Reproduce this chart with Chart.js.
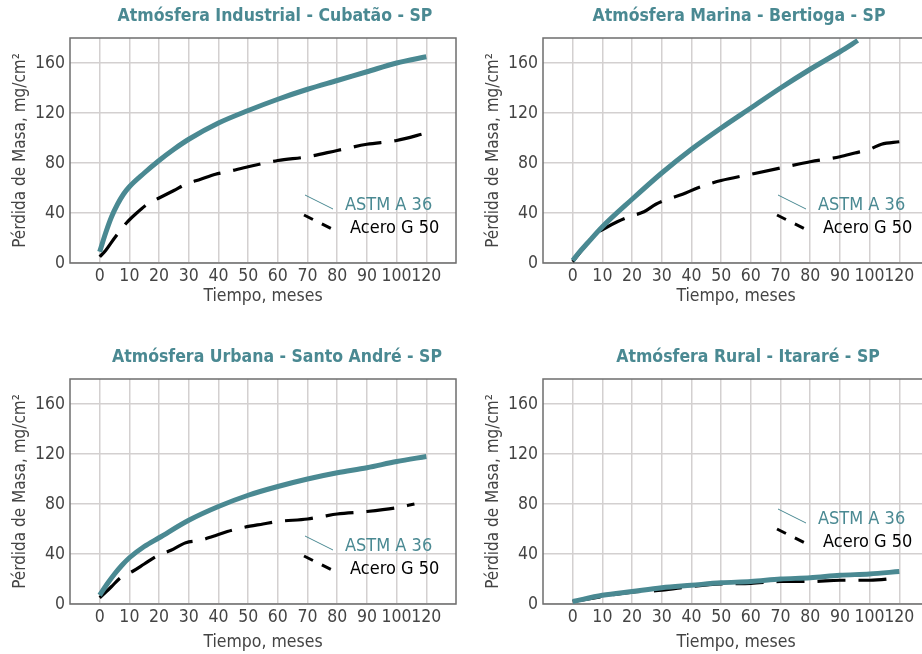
<!DOCTYPE html>
<html>
<head>
<meta charset="utf-8">
<script src="https://cdn.jsdelivr.net/npm/chart.js@4/dist/chart.umd.min.js"></script>
<style>
  html, body { margin: 0; padding: 0; background: #fff; width: 922px; height: 654px; overflow: hidden; }
  canvas { position: absolute; }
</style>
</head>
<body>
<canvas id="industrial" width="461" height="320" style="left:0px;top:0px;width:461px;height:320px"></canvas>
<canvas id="marina" width="461" height="320" style="left:473px;top:0px;width:461px;height:320px"></canvas>
<canvas id="urbana" width="461" height="320" style="left:0px;top:341px;width:461px;height:320px"></canvas>
<canvas id="rural" width="461" height="320" style="left:473px;top:341px;width:461px;height:320px"></canvas>
<script>
// Mass loss (mg/cm²) of ASTM A 36 and Acero G 50 over exposure time (months)
const panelTitles = [
  'Atmósfera Industrial - Cubatão - SP',
  'Atmósfera Marina - Bertioga - SP',
  'Atmósfera Urbana - Santo André - SP',
  'Atmósfera Rural - Itararé - SP'
];
const seriesNames = ['ASTM A 36', 'Acero G 50'];
const xTickLabels = ['0', '10', '20', '30', '40', '50', '60', '70', '80', '90', '100', '120'];
const xTickMonths = [0, 10, 20, 30, 40, 50, 60, 70, 80, 90, 100, 120];
const yTicks = [0, 40, 80, 120, 160];
const xAxisTitle = 'Tiempo, meses';
const yAxisTitle = 'Pérdida de Masa, mg/cm²';

// Industrial – Cubatão
const industrialA36Months = [0, 2, 4, 6, 8, 10, 15, 20, 25, 30, 40, 50, 60, 70, 80, 90, 100, 120];
const industrialA36Loss   = [9, 24, 37, 47, 55, 61, 72, 82, 91, 99, 112, 122, 131, 139, 146, 153, 160, 165];
const industrialG50Months = [0, 2, 5, 9, 12, 16, 20, 25, 29, 34, 39, 43, 50, 60, 70, 80, 90, 100, 120];
const industrialG50Loss   = [5, 10, 20, 32, 39, 47, 52, 58, 63, 67, 71, 73, 77, 82, 85, 90, 95, 98, 104];

// Marine – Bertioga
const marinaA36Months = [0, 2, 5, 10, 20, 30, 40, 50, 60, 70, 80, 90, 96];
const marinaA36Loss   = [2, 8, 16, 29, 51, 72, 91, 108, 124, 140, 155, 169, 178];
const marinaG50Months = [0, 5, 7, 11, 15, 19, 24, 28, 32, 37, 42, 47, 50, 60, 70, 80, 90, 95, 100, 108, 120];
const marinaG50Loss   = [1, 16, 22, 28, 33, 37, 41, 47, 51, 55, 60, 64, 66, 71, 76, 81, 85, 88, 91, 95, 97];

// Urban – Santo André
const urbanaA36Months = [0, 2.5, 5, 7.5, 10, 15, 20, 30, 40, 50, 60, 70, 80, 90, 100, 120];
const urbanaA36Loss   = [7, 16, 24, 31, 37, 46, 53, 67, 78, 87, 94, 100, 105, 109, 114, 118];
const urbanaG50Months = [0, 4, 7, 11, 15, 19, 24, 29, 34, 38, 43, 48, 55, 60, 70, 75, 80, 90, 100, 112];
const urbanaG50Loss   = [5, 14, 21, 26, 32, 38, 43, 49, 51, 54, 58, 61, 64, 66, 68, 70, 72, 74, 77, 80];

// Rural – Itararé
const ruralA36Months = [0, 10, 20, 30, 40, 50, 60, 70, 80, 90, 100, 120];
const ruralA36Loss   = [2, 7, 10, 13, 15, 17, 18, 20, 21, 23, 24, 26];
const ruralG50Months = [0, 10, 20, 30, 40, 50, 60, 70, 80, 90, 100, 120];
const ruralG50Loss   = [2, 6, 9.5, 11, 14, 16, 16.5, 18, 18, 19, 19, 21];

const TEAL = '#4a8992';
const FONT = "'DejaVu Sans Condensed', 'DejaVu Sans', sans-serif";

// The time axis is evenly spaced up to 100 months, then the 100–120 span is compressed to one step.
function axisPos(m) { return m <= 100 ? m : 100 + (m - 100) / 2; }
function toPoints(months, values) { return months.map((m, i) => ({ x: axisPos(m), y: values[i] })); }

// Plot frame drawn around the chart area
const framePlugin = {
  id: 'frame',
  beforeDatasetsDraw(chart) {
    const { ctx, chartArea: a } = chart;
    ctx.save();
    ctx.strokeStyle = '#6e6e6e';
    ctx.lineWidth = 1.5;
    ctx.strokeRect(a.left, a.top, a.right - a.left, a.bottom - a.top);
    ctx.restore();
  }
};

// Panel heading
const headingPlugin = {
  id: 'heading',
  afterDraw(chart, args, opts) {
    const { ctx } = chart;
    ctx.save();
    ctx.font = `bold ${opts.size}px ${FONT}`;
    ctx.fillStyle = TEAL;
    ctx.textAlign = 'center';
    ctx.textBaseline = 'middle';
    ctx.fillText(opts.text, opts.x, opts.y);
    ctx.restore();
  }
};

// Series key with slanted line samples
const keyPlugin = {
  id: 'key',
  afterDraw(chart, args, opts) {
    const { ctx, chartArea: a } = chart;
    const L = a.left, T = a.top + opts.dy;
    ctx.save();
    // ASTM A 36 sample
    ctx.strokeStyle = TEAL;
    ctx.lineWidth = 1;
    ctx.beginPath();
    ctx.moveTo(L + 235, T + 157);
    ctx.lineTo(L + 263, T + 171);
    ctx.stroke();
    // Acero G 50 sample
    ctx.strokeStyle = '#000';
    ctx.lineWidth = 3;
    ctx.setLineDash([10, 10]);
    ctx.beginPath();
    ctx.moveTo(L + 234, T + 177);
    ctx.lineTo(L + 264, T + 192);
    ctx.stroke();
    ctx.setLineDash([]);
    ctx.font = `18px ${FONT}`;
    ctx.textBaseline = 'middle';
    ctx.textAlign = 'left';
    ctx.fillStyle = TEAL;
    ctx.fillText(seriesNames[0], L + 275, T + 167);
    ctx.fillStyle = '#000';
    ctx.fillText(seriesNames[1], L + 280, T + 190);
    ctx.restore();
  }
};

function makePanel(id, title, titleX, keyDy, xTitlePad, a36, g50) {
  return new Chart(document.getElementById(id), {
    type: 'line',
    data: {
      datasets: [
        {
          label: seriesNames[0],
          data: a36,
          borderColor: TEAL,
          borderWidth: 5,
          pointRadius: 0,
          cubicInterpolationMode: 'monotone',
          borderCapStyle: 'butt'
        },
        {
          label: seriesNames[1],
          data: g50,
          borderColor: '#000',
          borderWidth: 3.2,
          borderDash: [28, 13],
          pointRadius: 0,
          cubicInterpolationMode: 'monotone'
        }
      ]
    },
    options: {
      responsive: false,
      animation: false,
      devicePixelRatio: 1,
      layout: { padding: { top: 38, right: 5, left: 0, bottom: 0 } },
      plugins: {
        legend: { display: false },
        tooltip: { enabled: false },
        heading: { text: title, x: titleX, y: 16, size: 17.5 },
        key: { dy: keyDy }
      },
      scales: {
        x: {
          type: 'linear',
          min: -10,
          max: 120,
          afterBuildTicks(scale) { scale.ticks = xTickMonths.map(m => ({ value: axisPos(m) })); },
          afterFit(scale) { scale.height = 57; },
          ticks: {
            autoSkip: false,
            maxRotation: 0,
            padding: 3,
            color: '#444',
            font: { family: FONT, size: 17.5 },
            callback: (v, i) => xTickLabels[i]
          },
          grid: { color: '#d3d0d0', lineWidth: 1.5, drawTicks: false },
          border: { display: false },
          title: {
            display: true,
            text: xAxisTitle,
            color: '#444',
            font: { family: FONT, size: 17.5 },
            padding: { top: 0, bottom: xTitlePad }
          }
        },
        y: {
          min: 0,
          max: 180,
          afterBuildTicks(scale) { scale.ticks = yTicks.map(v => ({ value: v })); },
          afterFit(scale) { scale.width = 70; },
          ticks: {
            padding: 5,
            color: '#444',
            font: { family: FONT, size: 17.5 }
          },
          grid: { color: '#d3d0d0', lineWidth: 1.5, drawTicks: false },
          border: { display: false },
          title: {
            display: true,
            text: yAxisTitle,
            color: '#444',
            font: { family: FONT, size: 17 },
            padding: { top: 10, bottom: 0 }
          }
        }
      }
    },
    plugins: [framePlugin, headingPlugin, keyPlugin]
  });
}

makePanel('industrial', panelTitles[0], 275, 0, 13,
  toPoints(industrialA36Months, industrialA36Loss),
  toPoints(industrialG50Months, industrialG50Loss));
makePanel('marina', panelTitles[1], 266, 0, 13,
  toPoints(marinaA36Months, marinaA36Loss),
  toPoints(marinaG50Months, marinaG50Loss));
makePanel('urbana', panelTitles[2], 277, 0, 8,
  toPoints(urbanaA36Months, urbanaA36Loss),
  toPoints(urbanaG50Months, urbanaG50Loss));
makePanel('rural', panelTitles[3], 275, -27, 8,
  toPoints(ruralA36Months, ruralA36Loss),
  toPoints(ruralG50Months, ruralG50Loss));
</script>
</body>
</html>
